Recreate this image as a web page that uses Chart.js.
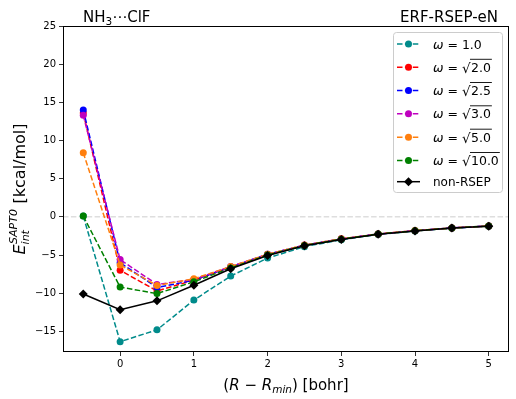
<!DOCTYPE html>
<html>
<head>
<meta charset="utf-8">
<script src="https://cdn.jsdelivr.net/npm/chart.js@4.4.1/dist/chart.umd.min.js"></script>
<style>
  html, body { margin: 0; padding: 0; background: #fff; }
  #wrap { width: 516px; height: 399px; }
</style>
</head>
<body>
<div id="wrap"><canvas id="c" width="516" height="399"></canvas></div>
<script>
// R - Rmin in bohr
const rShift = [-0.5, 0, 0.5, 1, 1.5, 2, 2.5, 3, 3.5, 4, 4.5, 5];

// E_int SAPT0 in kcal/mol
const omega1 = [0.1, -16.35, -14.8, -10.9, -7.75, -5.4, -3.9, -3.0, -2.3, -1.85, -1.48, -1.22];
const omegaSqrt2 = [13.6, -7.0, -9.7, -8.3, -6.6, -4.95, -3.75, -2.9, -2.25, -1.82, -1.45, -1.2];
const omegaSqrt25 = [14.0, -6.0, -9.25, -8.3, -6.55, -4.9, -3.72, -2.9, -2.25, -1.82, -1.45, -1.2];
const omegaSqrt3 = [13.3, -5.6, -8.85, -8.2, -6.5, -4.9, -3.7, -2.88, -2.24, -1.8, -1.45, -1.2];
const omegaSqrt5 = [8.4, -6.3, -9.0, -8.1, -6.5, -4.9, -3.7, -2.88, -2.24, -1.8, -1.45, -1.2];
const omegaSqrt10 = [0.1, -9.2, -10.05, -8.5, -6.7, -5.0, -3.75, -2.92, -2.25, -1.83, -1.46, -1.2];
const nonRsep = [-10.1, -12.15, -11.0, -8.95, -6.8, -5.05, -3.78, -2.96, -2.27, -1.85, -1.46, -1.22];

// legend text: [prefix, radicand or null]
const seriesLabels = [['1.0', null], ['', '2.0'], ['', '2.5'], ['', '3.0'], ['', '5.0'], ['', '10.0'], ['non-RSEP', null]];
const seriesColors = ['#008b8b', '#ff0000', '#0000ff', '#bf00bf', '#ff7f0e', '#008000', '#000000'];
const seriesValues = [omega1, omegaSqrt2, omegaSqrt25, omegaSqrt3, omegaSqrt5, omegaSqrt10, nonRsep];

const xTicks = [0, 1, 2, 3, 4, 5];
const yTicks = [-15, -10, -5, 0, 5, 10, 15, 20, 25];

const FONT = 'DejaVu Sans';
const dash = [5.5, 2.4];

const datasets = seriesValues.map(function(vals, i) {
    const last = i === seriesValues.length - 1;
    return {
        label: seriesLabels[i].join(''),
        data: rShift.map((x, j) => ({ x: x, y: vals[j] })),
        borderColor: seriesColors[i],
        backgroundColor: seriesColors[i],
        borderWidth: 1.5,
        borderDash: last ? [] : dash,
        pointStyle: last ? 'rectRot' : 'circle',
        pointRadius: last ? 4.5 : 3.5,
        pointBorderWidth: 0,
        tension: 0,
        order: seriesValues.length - i // later series on top, like matplotlib
    };
});

function minus(v) {
    return String(v).replace('-', '\u2212');
}

// text runs: {t, font, dy}
function drawRuns(ctx, runs, x, y) {
    let cx = x;
    runs.forEach(function(r) {
        ctx.font = r.font;
        if (r.t) ctx.fillText(r.t, cx, y + (r.dy || 0));
        cx += r.w !== undefined ? r.w : ctx.measureText(r.t).width;
    });
    return cx;
}
function runsWidth(ctx, runs) {
    let w = 0;
    runs.forEach(function(r) {
        ctx.font = r.font;
        w += r.w !== undefined ? r.w : ctx.measureText(r.t).width;
    });
    return w;
}

const decor = {
    id: 'decor',
    beforeDatasetsDraw(chart) {
        const ctx = chart.ctx, a = chart.chartArea;
        const y0 = chart.scales.y.getPixelForValue(0);
        ctx.save();
        ctx.strokeStyle = '#dedede';
        ctx.lineWidth = 1.5;
        ctx.setLineDash(dash);
        ctx.beginPath();
        ctx.moveTo(a.left, y0);
        ctx.lineTo(a.right, y0);
        ctx.stroke();
        ctx.restore();
    },
    afterDatasetsDraw(chart) {
        const ctx = chart.ctx, a = chart.chartArea;
        ctx.save();
        // frame
        ctx.strokeStyle = '#000';
        ctx.lineWidth = 1;
        ctx.strokeRect(Math.round(a.left) + 0.5, Math.round(a.top) + 0.5,
            Math.round(a.right - a.left) - 1, Math.round(a.bottom - a.top) - 1);

        ctx.fillStyle = '#000';
        ctx.textBaseline = 'alphabetic';
        ctx.textAlign = 'left';

        // titles
        drawRuns(ctx, [
            { t: 'NH', font: '15px ' + FONT },
            { t: '3', font: '10.5px ' + FONT, dy: 3 },
            { t: '\u22EFClF', font: '15px ' + FONT }
        ], 83, 22);
        ctx.font = '15px ' + FONT;
        ctx.textAlign = 'right';
        ctx.fillText('ERF-RSEP-eN', 498, 22);
        ctx.textAlign = 'left';

        // x axis label
        const xr = [
            { t: '(', font: '15px ' + FONT },
            { t: 'R', font: 'italic 15px ' + FONT },
            { t: ' \u2212 ', font: '15px ' + FONT },
            { t: 'R', font: 'italic 15px ' + FONT },
            { t: 'min', font: 'italic 10.5px ' + FONT, dy: 3 },
            { t: ') [bohr]', font: '15px ' + FONT }
        ];
        const cxm = (a.left + a.right) / 2;
        drawRuns(ctx, xr, cxm - runsWidth(ctx, xr) / 2, 390);

        // y axis label, rotated
        ctx.font = 'italic 11px ' + FONT;
        const wSub = ctx.measureText('int').width;
        const wSup = ctx.measureText('SAPT0').width;
        const yr = [
            { t: 'E', font: 'italic 16px ' + FONT },
            { t: '', font: '11px ' + FONT, w: Math.max(wSub, wSup) + 1 },
            { t: ' [kcal/mol]', font: '16px ' + FONT }
        ];
        ctx.translate(25, (a.top + a.bottom) / 2);
        ctx.rotate(-Math.PI / 2);
        const sx = -runsWidth(ctx, yr) / 2;
        ctx.font = 'italic 16px ' + FONT;
        const eW = ctx.measureText('E').width;
        drawRuns(ctx, yr, sx, 0);
        ctx.font = 'italic 11px ' + FONT;
        ctx.fillText('int', sx + eW, 4);
        ctx.fillText('SAPT0', sx + eW + 0.5, -8);
        ctx.restore();

        drawLegend(chart);
    }
};

function drawLegend(chart) {
    const ctx = chart.ctx;
    const bx = 393.5, by = 32.5, bw = 109, bh = 160;
    ctx.save();
    ctx.beginPath();
    if (ctx.roundRect) ctx.roundRect(bx, by, bw, bh, 3); else ctx.rect(bx, by, bw, bh);
    ctx.fillStyle = 'rgba(255,255,255,0.8)';
    ctx.fill();
    ctx.strokeStyle = '#cccccc';
    ctx.lineWidth = 1;
    ctx.stroke();

    const rowY = [44, 67.3, 90.5, 113.8, 137.2, 160.5, 181.7];
    seriesLabels.forEach(function(lab, i) {
        const y = rowY[i];
        const ds = chart.data.datasets[i];
        ctx.strokeStyle = ds.borderColor;
        ctx.lineWidth = 1.5;
        ctx.setLineDash(ds.borderDash);
        ctx.beginPath();
        ctx.moveTo(397, y);
        ctx.lineTo(420, y);
        ctx.stroke();
        ctx.setLineDash([]);
        ctx.fillStyle = ds.backgroundColor;
        ctx.beginPath();
        if (ds.pointStyle === 'rectRot') {
            const r = 4.5;
            ctx.moveTo(408.5, y - r); ctx.lineTo(408.5 + r, y);
            ctx.lineTo(408.5, y + r); ctx.lineTo(408.5 - r, y);
            ctx.closePath();
        } else {
            ctx.arc(408.5, y, 3.5, 0, Math.PI * 2);
        }
        ctx.fill();

        ctx.fillStyle = '#000';
        const base = y + 4.5;
        if (lab[0] === 'non-RSEP') {
            ctx.font = '12px ' + FONT;
            ctx.fillText(lab[0], 433, base);
            return;
        }
        let x = drawRuns(ctx, [
            { t: '\u03C9', font: 'italic 12.5px ' + FONT },
            { t: ' = ', font: '12.5px ' + FONT }
        ], 433, base);
        if (lab[1] === null) {
            drawRuns(ctx, [{ t: lab[0], font: '12.5px ' + FONT }], x, base);
        } else {
            ctx.font = '13.5px ' + FONT;
            ctx.fillText('\u221A', x, base + 1);
            x += ctx.measureText('\u221A').width - 0.5;
            ctx.font = '12.5px ' + FONT;
            const w = ctx.measureText(lab[1]).width;
            ctx.fillText(lab[1], x + 1, base);
            ctx.strokeStyle = '#000';
            ctx.lineWidth = 0.9;
            ctx.beginPath();
            ctx.moveTo(x, base - 12.5);
            ctx.lineTo(x + w + 2, base - 12.5);
            ctx.stroke();
        }
    });
    ctx.restore();
}

new Chart(document.getElementById('c'), {
    type: 'line',
    data: { datasets: datasets },
    options: {
        responsive: false,
        animation: false,
        events: [],
        layout: { padding: { top: 26, right: 7, left: 0, bottom: 0 } },
        plugins: { legend: { display: false }, tooltip: { enabled: false }, title: { display: false } },
        scales: {
            x: {
                type: 'linear',
                min: -0.775,
                max: 5.275,
                afterFit: s => { s.height = 47; },
                afterBuildTicks: s => { s.ticks = xTicks.map(v => ({ value: v })); },
                border: { display: false },
                grid: { display: true, drawOnChartArea: false, drawTicks: true, tickLength: 4, color: '#000', lineWidth: 0.8 },
                ticks: { color: '#000', font: { family: FONT, size: 10 }, padding: 2, maxRotation: 0,
                    callback: v => minus(v) }
            },
            y: {
                type: 'linear',
                min: -17.7,
                max: 25,
                afterFit: s => { s.width = 63; },
                afterBuildTicks: s => { s.ticks = yTicks.map(v => ({ value: v })); },
                border: { display: false },
                grid: { display: true, drawOnChartArea: false, drawTicks: true, tickLength: 4, color: '#000', lineWidth: 0.8 },
                ticks: { color: '#000', font: { family: FONT, size: 10 }, padding: 3,
                    callback: v => minus(v) }
            }
        }
    },
    plugins: [decor]
});
</script>
</body>
</html>
